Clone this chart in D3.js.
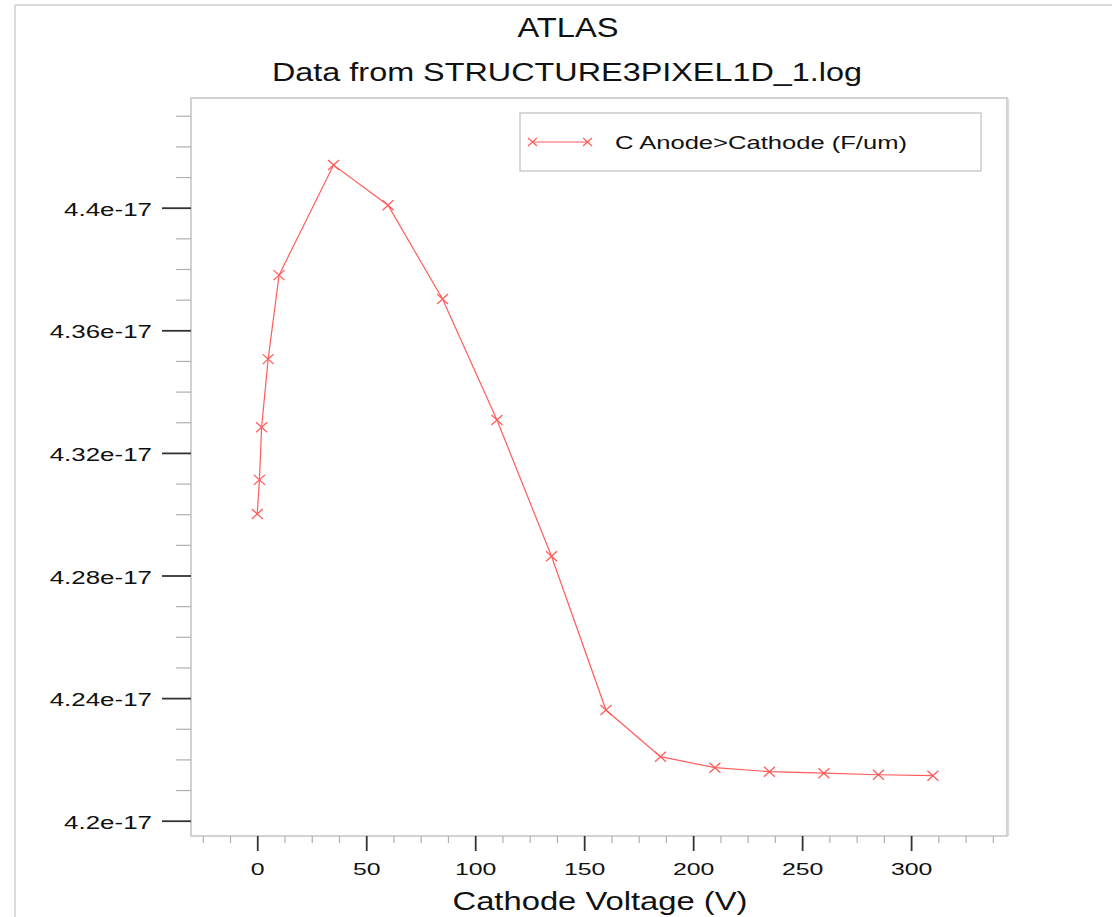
<!DOCTYPE html>
<html>
<head>
<meta charset="utf-8">
<script src="https://cdn.jsdelivr.net/npm/d3@7"></script>
<style>
  html, body { margin: 0; padding: 0; background: #fff; }
  svg { display: block; }
  text { font-family: "Liberation Sans", Arial, Helvetica, sans-serif; fill: #111; }
</style>
</head>
<body>
<svg id="chart" width="1115" height="917"></svg>
<script>
// ---- data ----
const voltage = [0, 1, 2, 5, 10, 35, 60, 85, 110, 135, 160, 185, 210, 235, 260, 285, 310];
const capacitance = [4.3001e-17, 4.3112e-17, 4.3284e-17, 4.3506e-17, 4.3780e-17, 4.4139e-17, 4.4008e-17,
  4.3702e-17, 4.3307e-17, 4.2863e-17, 4.2361e-17, 4.2209e-17, 4.2173e-17, 4.2160e-17,
  4.2155e-17, 4.2150e-17, 4.2147e-17];
const xMajorTicks = [0, 50, 100, 150, 200, 250, 300];
const xMinorTicks = [-25, -12.5, 12.5, 25, 37.5, 62.5, 75, 87.5, 112.5, 125, 137.5, 162.5, 175, 187.5,
  212.5, 225, 237.5, 262.5, 275, 287.5, 312.5, 325, 337.5];
const yMajorTicks = [4.2e-17, 4.24e-17, 4.28e-17, 4.32e-17, 4.36e-17, 4.4e-17];
const yMajorLabels = ["4.2e-17", "4.24e-17", "4.28e-17", "4.32e-17", "4.36e-17", "4.4e-17"];
const yMinorTicks = [4.21e-17, 4.22e-17, 4.23e-17, 4.25e-17, 4.26e-17, 4.27e-17, 4.29e-17, 4.30e-17,
  4.31e-17, 4.33e-17, 4.34e-17, 4.35e-17, 4.37e-17, 4.38e-17, 4.39e-17, 4.41e-17, 4.42e-17, 4.43e-17];
const titleText = "ATLAS";
const subtitleText = "Data from STRUCTURE3PIXEL1D_1.log";
const xLabelText = "Cathode Voltage (V)";
const seriesName = "C Anode>Cathode (F/um)";

// ---- layout ----
const L = 191, T = 98, R = 1007, B = 836;
const red = "#ff5c5c";
const svg = d3.select("#chart");

const x = d3.scaleLinear().domain([-30.4, 344]).range([L, R]);
const y = d3.scaleLinear().domain([4.19501e-17, 4.43579e-17]).range([B, T]);

function stretch(sel, f) {
  sel.each(function () {
    const w = this.getComputedTextLength();
    d3.select(this).attr("textLength", w * f).attr("lengthAdjust", "spacingAndGlyphs");
  });
}

// outer frame (top + left lines)
svg.append("line").attr("x1", 15).attr("y1", 5).attr("x2", 1112).attr("y2", 5)
  .attr("stroke", "#cfcfcf").attr("stroke-width", 1.5);
svg.append("line").attr("x1", 15).attr("y1", 5).attr("x2", 15).attr("y2", 917)
  .attr("stroke", "#cfcfcf").attr("stroke-width", 1.5);

// titles
svg.append("text").attr("x", 568).attr("y", 37).attr("text-anchor", "middle")
  .style("font-size", "27px").attr("textLength", 101).attr("lengthAdjust", "spacingAndGlyphs").text(titleText);
svg.append("text").attr("x", 567).attr("y", 81).attr("text-anchor", "middle")
  .style("font-size", "26px").attr("textLength", 590).attr("lengthAdjust", "spacingAndGlyphs").text(subtitleText);

// plot box
svg.append("rect").attr("x", L).attr("y", T).attr("width", R - L).attr("height", B - T)
  .attr("fill", "none").attr("stroke", "#c4c4c4").attr("stroke-width", 1.5);
svg.append("line").attr("x1", R + 1.5).attr("y1", T + 1).attr("x2", R + 1.5).attr("y2", B)
  .attr("stroke", "#dddddd").attr("stroke-width", 1.5);

// y minor ticks
const yMinor = svg.append("g").attr("transform", `translate(${L},0)`)
  .call(d3.axisLeft(y).tickValues(yMinorTicks).tickSize(15).tickFormat(""));
yMinor.select(".domain").remove();
yMinor.selectAll("line").attr("stroke", "#b0b0b0").attr("stroke-width", 1.2);

// y major ticks
const yAxis = svg.append("g").attr("transform", `translate(${L},0)`)
  .call(d3.axisLeft(y).tickValues(yMajorTicks).tickSize(29).tickPadding(10)
    .tickFormat((d, i) => yMajorLabels[i]));
yAxis.select(".domain").remove();
yAxis.selectAll("line").attr("stroke", "#333").attr("stroke-width", 1.8);
yAxis.selectAll("text").attr("fill", "#111").attr("dy", "0.42em")
  .style("font-size", "18px").style("font-family", '"Liberation Sans", Arial, sans-serif');
stretch(yAxis.selectAll("text"), 1.44);

// x minor ticks
const xMinor = svg.append("g").attr("transform", `translate(0,${B})`)
  .call(d3.axisBottom(x).tickValues(xMinorTicks).tickSize(7).tickFormat(""));
xMinor.select(".domain").remove();
xMinor.selectAll("line").attr("stroke", "#b0b0b0").attr("stroke-width", 1.2);

// x major ticks
const xAxis = svg.append("g").attr("transform", `translate(0,${B})`)
  .call(d3.axisBottom(x).tickValues(xMajorTicks).tickSize(15).tickPadding(12).tickFormat(d3.format("d")));
xAxis.select(".domain").remove();
xAxis.selectAll("line").attr("stroke", "#333").attr("stroke-width", 1.8);
xAxis.selectAll("text").attr("fill", "#111")
  .style("font-size", "17px").style("font-family", '"Liberation Sans", Arial, sans-serif');
stretch(xAxis.selectAll("text"), 1.46);

// x axis label (kept fully inside the picture)
svg.append("text").attr("x", 600).attr("y", 910).attr("text-anchor", "middle")
  .style("font-size", "25px").attr("textLength", 295).attr("lengthAdjust", "spacingAndGlyphs").text(xLabelText);

// series line
const pts = voltage.map((v, i) => [v, capacitance[i]]);
svg.append("path").datum(pts)
  .attr("d", d3.line().x(d => x(d[0])).y(d => y(d[1])))
  .attr("fill", "none").attr("stroke", red).attr("stroke-width", 1.2);

// markers
function cross(g, cx, cy, hw, hh) {
  g.append("path")
    .attr("d", `M${cx - hw},${cy - hh}L${cx + hw},${cy + hh}M${cx - hw},${cy + hh}L${cx + hw},${cy - hh}`)
    .attr("stroke", red).attr("stroke-width", 1.3).attr("fill", "none");
}
const mk = svg.append("g");
pts.forEach(d => cross(mk, x(d[0]), y(d[1]), 5.5, 5));

// legend
svg.append("rect").attr("x", 520).attr("y", 113).attr("width", 461).attr("height", 58)
  .attr("fill", "#fff").attr("stroke", "#c4c4c4").attr("stroke-width", 1.3);
svg.append("line").attr("x1", 532).attr("y1", 142).attr("x2", 588).attr("y2", 142)
  .attr("stroke", red).attr("stroke-width", 1.2);
cross(svg, 532.5, 142, 4.5, 4);
cross(svg, 587.5, 142, 4.5, 4);
svg.append("text").attr("x", 615).attr("y", 148.5)
  .style("font-size", "18.5px").attr("textLength", 292).attr("lengthAdjust", "spacingAndGlyphs").text(seriesName);
</script>
</body>
</html>
